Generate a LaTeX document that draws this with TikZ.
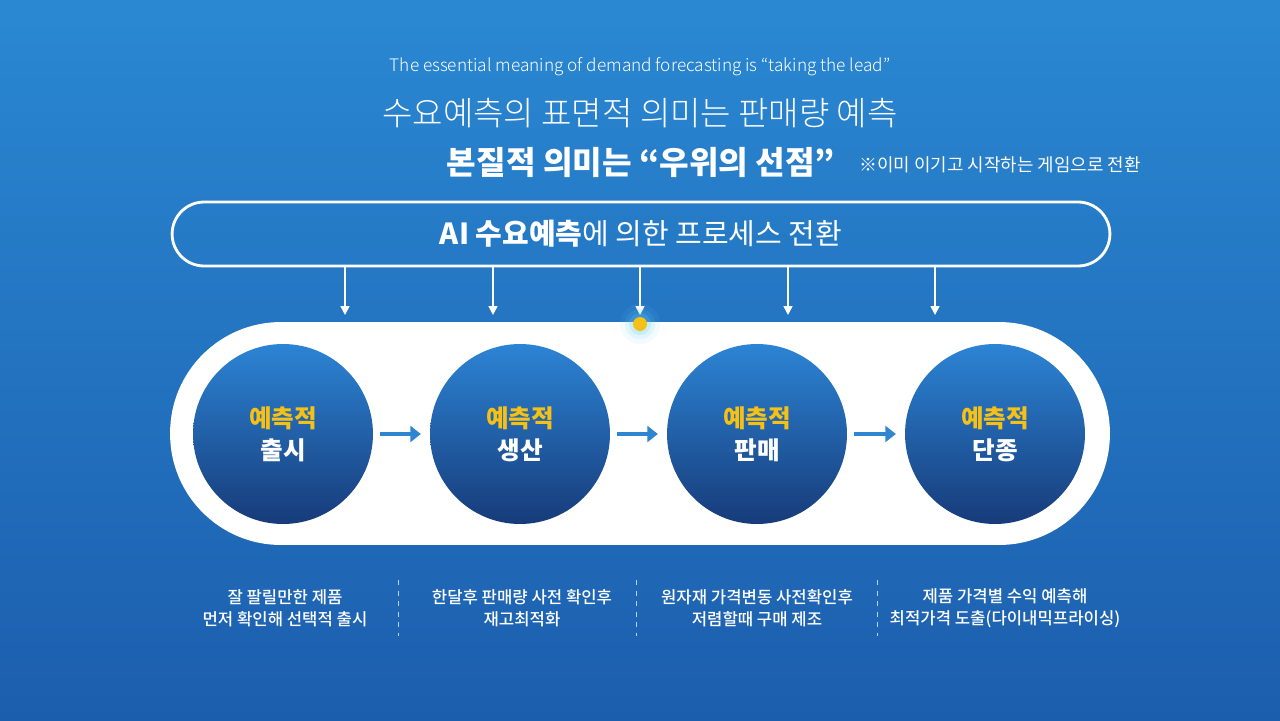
\documentclass[tikz,border=0pt]{standalone}
\usepackage{fontspec}
\setmainfont{Noto Sans CJK KR}
\newfontfamily\krlight{Noto Sans CJK KR Light}
\newfontfamily\krmed{Noto Sans CJK KR Medium}
\usetikzlibrary{positioning,arrows.meta,shadings}
\definecolor{bgtop}{HTML}{2A88D2}
\definecolor{bgbot}{HTML}{1C5EAE}
\definecolor{ctop}{HTML}{2C84D4}
\definecolor{cbot}{HTML}{173B7A}
\definecolor{gold}{HTML}{F5C116}
\definecolor{arrowblue}{HTML}{2F86D0}
\tikzset{
  stage/.style={circle, minimum size=3.6cm, inner sep=0pt, top color=ctop, bottom color=cbot, align=center, text=white, font=\fontsize{14}{18}\selectfont\bfseries},
  flow/.style={-{Triangle[length=6pt,width=9pt]}, line width=1.8pt, draw=arrowblue, shorten <=4pt, shorten >=5pt},
  down/.style={-{Triangle[length=5pt,width=5pt]}, line width=0.9pt, draw=white},
  note/.style={text=white, align=center, font=\fontsize{9.5}{12.5}\selectfont\krmed},
  sep/.style={draw=white!70!bgbot, dashed, line width=0.5pt}
}
\begin{document}
\begin{tikzpicture}[x=0.02cm,y=-0.02cm]
\shade[top color=bgtop, bottom color=bgbot] (0,0) rectangle (1280,720);
\useasboundingbox (0,0) rectangle (1280,720);
% titles
\node[text=white, font=\fontsize{9.8}{11}\selectfont\krlight] (sub) at (640,67) {The essential meaning of demand forecasting is “taking the lead”};
\node[text=white, font=\fontsize{18.8}{22}\selectfont\krlight] (surface) at (640,113) {수요예측의 표면적 의미는 판매량 예측};
\node[text=white, font=\fontsize{18.3}{22}\selectfont\bfseries] (essence) at (641,162) {본질적 의미는 “우위의 선점”};
\node[text=white, font=\fontsize{10.2}{12}\selectfont] (remark) at (1000,165) {※이미 이기고 시작하는 게임으로 전환};
% process box
\node[draw=white, line width=1.6pt, rounded corners=0.64cm, minimum width=18.76cm, minimum height=1.28cm, text=white, font=\fontsize{16.5}{19}\selectfont] (process) at (641,234) {\textbf{AI 수요예측}에 의한 프로세스 전환};
\node[fill=white, rounded corners=2.22cm, minimum width=18.8cm, minimum height=4.46cm] (band) at (640,433.5) {};
% stages
\node[stage] (launch) at (283,434) {\textcolor{gold}{예측적}\\출시};
\node[stage] (produce) at (520,434) {\textcolor{gold}{예측적}\\생산};
\node[stage] (sell) at (757,434) {\textcolor{gold}{예측적}\\판매};
\node[stage] (retire) at (995,434) {\textcolor{gold}{예측적}\\단종};
\draw[flow] (launch) -- (produce);
\draw[flow] (produce) -- (sell);
\draw[flow] (sell) -- (retire);
\foreach \x in {345,493,640,788,935}
  \draw[down] (\x,267) -- (\x,315);
% glow dot
\foreach \r/\o in {20/0.08,15/0.12,11/0.2}
  \fill[cyan!60!white, opacity=\o] (640,324) circle (\r);
\fill[gold] (640,324) circle (7);
% notes
\node[note] (n1) at (285,608) {잘 팔릴만한 제품\\먼저 확인해 선택적 출시};
\node[note] (n2) at (522,608) {한달후 판매량 사전 확인후\\재고최적화};
\node[note] (n3) at (757,608) {원자재 가격변동 사전확인후\\저렴할때 구매 제조};
\node[note] (n4) at (1005,608) {제품 가격별 수익 예측해\\최적가격 도출(다이내믹프라이싱)};
\foreach \x in {398,636,877}
  \draw[sep] (\x,580) -- (\x,636);
\end{tikzpicture}
\end{document}
